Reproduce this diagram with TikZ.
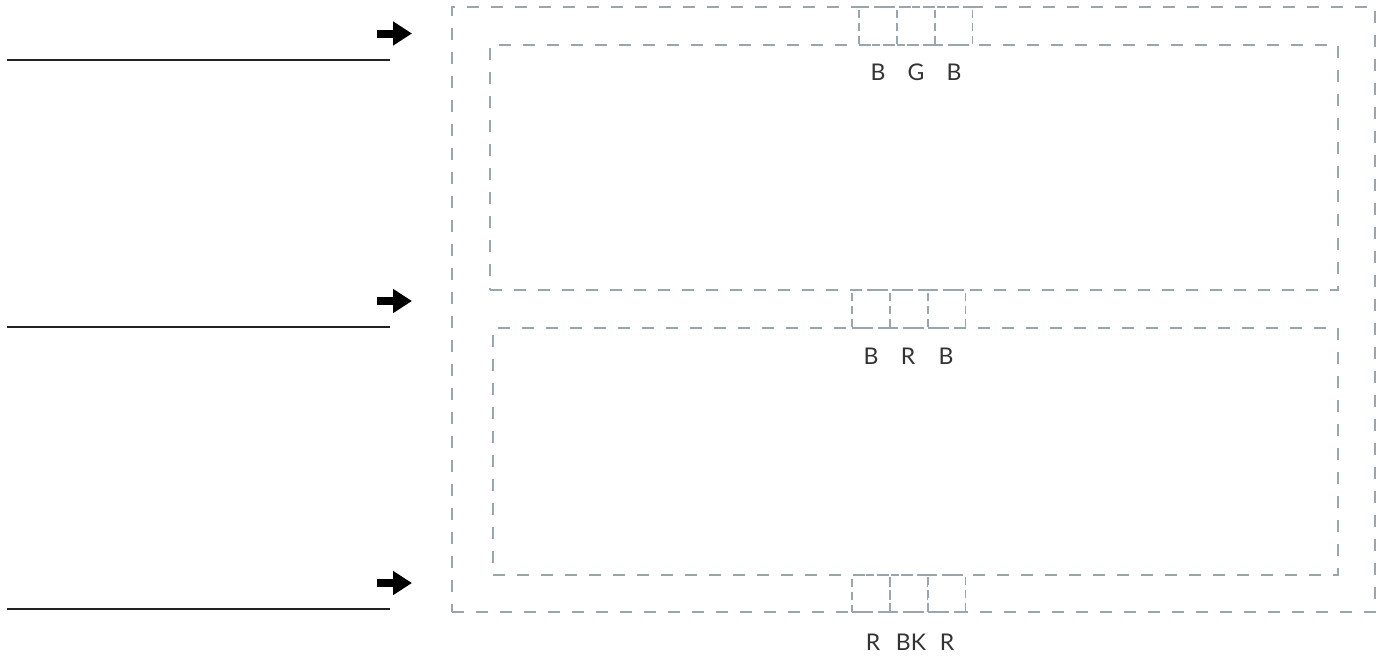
\documentclass[tikz,border=0pt]{standalone}
\usepackage{fontspec}
\setmainfont{Lato}
\usetikzlibrary{arrows.meta}
\definecolor{dashc}{HTML}{9AA6AE}
\definecolor{txt}{HTML}{333333}
\definecolor{ln}{HTML}{222222}
\tikzset{
  frame/.style={draw=dashc, line width=1.3pt, dash pattern=on 12pt off 12pt, inner sep=0pt, minimum width=#1},
  frame/.default=10pt,
  slot/.style={draw=dashc, line width=1.1pt, dash pattern=on 8pt off 5pt, inner sep=0pt, minimum width=38pt, minimum height=38pt},
  lab/.style={text=txt, font=\fontsize{23}{23}\selectfont, inner sep=0pt},
  rule/.style={draw=ln, line width=1.6pt},
  bigarrow/.style={line width=8pt, -{Triangle[length=19pt,width=23pt]}}
}
\begin{document}
\begin{tikzpicture}[x=1pt,y=-1pt]
\useasboundingbox (0,0) rectangle (1379,659);
% frames
\node[frame=923pt, minimum height=605pt] (outer) at (913.5,309.5) {};
\node[frame=848pt, minimum height=245pt] (inner1) at (914,167.5) {};
\node[frame=845pt, minimum height=247pt] (inner2) at (915.5,451.5) {};
% top slots
\node[slot] (t1) at (878,26) {};
\node[slot] (t2) at (916,26) {};
\node[slot] (t3) at (953.5,26) {};
% middle slots
\node[slot] (m1) at (871,309) {};
\node[slot] (m2) at (909,309) {};
\node[slot] (m3) at (946.5,309) {};
% bottom slots
\node[slot, minimum height=37pt] (b1) at (871,593.5) {};
\node[slot, minimum height=37pt] (b2) at (909,593.5) {};
\node[slot, minimum height=37pt] (b3) at (946.5,593.5) {};
% labels
\node[lab] (lt1) at (878,72) {B};
\node[lab] (lt2) at (916,72) {G};
\node[lab] (lt3) at (954,72) {B};
\node[lab] (lm1) at (871,356) {B};
\node[lab] (lm2) at (908,356) {R};
\node[lab] (lm3) at (946,356) {B};
\node[lab] (lb1) at (873,642) {R};
\node[lab] (lb2) at (911,642) {BK};
\node[lab] (lb3) at (947,642) {R};
% rules
\coordinate (r1a) at (7,60);  \coordinate (r1b) at (390,60);
\coordinate (r2a) at (7,327); \coordinate (r2b) at (390,327);
\coordinate (r3a) at (7,609); \coordinate (r3b) at (390,609);
\draw[rule] (r1a) -- (r1b);
\draw[rule] (r2a) -- (r2b);
\draw[rule] (r3a) -- (r3b);
% arrows
\coordinate (a1s) at (377,33.5); \coordinate (a1e) at (412,33.5);
\coordinate (a2s) at (377,301);  \coordinate (a2e) at (412,301);
\coordinate (a3s) at (377,583);  \coordinate (a3e) at (412,583);
\draw[bigarrow] (a1s) -- (a1e);
\draw[bigarrow] (a2s) -- (a2e);
\draw[bigarrow] (a3s) -- (a3e);
\end{tikzpicture}
\end{document}
